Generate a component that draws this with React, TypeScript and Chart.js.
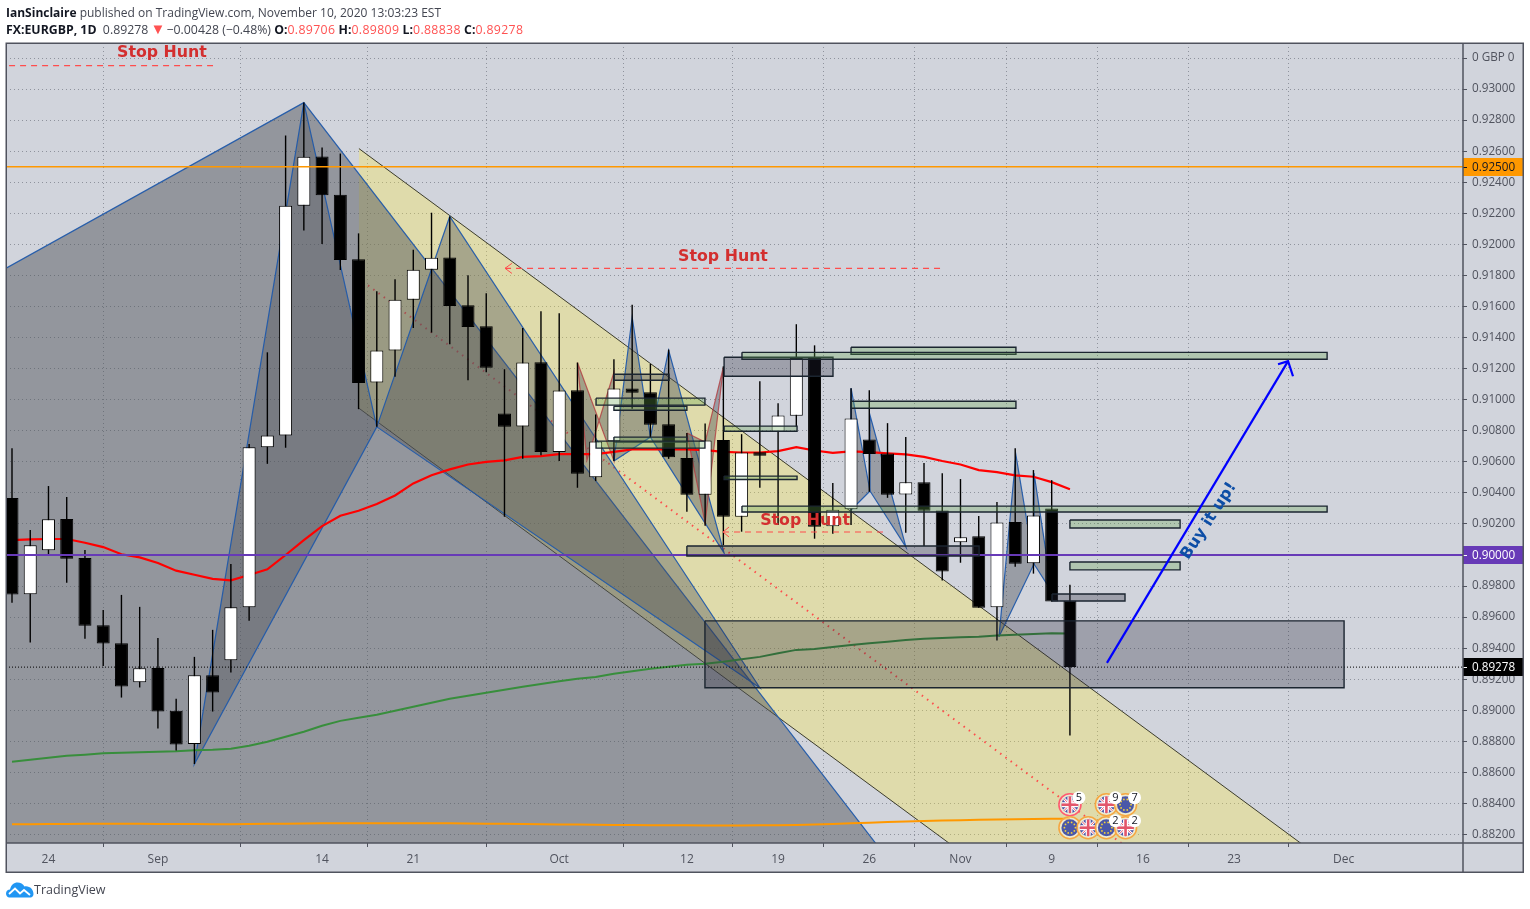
import React, { useEffect, useRef } from "react";
import Chart from "chart.js/auto";

// ---- candle data (bar index 0 = 20 Aug 2020, EURGBP daily)
const opens = [.90367,.89747,.9003,.90232,.89981,.89548,.89432,.89181,.89273,.88997,.88783,.89226,.89323,.89664,.90693,.9077,.92249,.92566,.9232,.91904,.91111,.91316,.91644,.91837,.91916,.91608,.91473,.90911,.90828,.91241,.90664,.91061,.905,.90733,.91072,.91048,.90842,.90624,.90388,.9074,.90246,.90662,.90793,.90896,.91269,.90185,.90294,.90744,.90654,.9039,.90468,.90287,.90082,.9012,.89664,.90212,.89947,.903,.89706];
const closes = [.89745,.90062,.9023,.89976,.89545,.8943,.89153,.89271,.88992,.8878,.89226,.89114,.89664,.90693,.9077,.92249,.92564,.92317,.91899,.91108,.91316,.91644,.91837,.91914,.91603,.91468,.91205,.90825,.91239,.90664,.91059,.90523,.90731,.91072,.91044,.90838,.9063,.90388,.90738,.90246,.9066,.90639,.90898,.91269,.90182,.90291,.90879,.90651,.90388,.90468,.90285,.89893,.90114,.89661,.9021,.89944,.90255,.897,.89278];
const highs = [.90688,.90161,.90444,.90373,.90032,.89646,.89743,.89666,.89466,.89074,.89344,.89518,.89942,.90714,.91305,.92701,.92913,.92624,.92585,.92071,.91698,.91775,.91966,.92204,.9218,.91801,.91685,.91196,.91462,.91569,.91556,.91239,.90905,.9126,.91612,.9123,.91323,.90785,.90847,.91215,.90778,.91119,.90977,.91486,.9135,.90463,.91074,.91061,.90849,.90759,.90592,.90527,.90489,.90251,.90341,.90688,.90547,.90482,.89809];
const lows = [.89693,.89436,.90006,.89822,.8946,.89286,.89082,.89147,.88883,.88741,.88654,.88992,.89243,.89577,.90587,.9069,.9209,.92002,.91835,.90939,.90825,.91147,.91462,.91432,.91357,.91125,.91177,.90246,.90619,.90643,.90606,.90433,.90476,.90606,.90941,.90759,.90619,.90278,.90188,.90064,.9015,.90433,.90193,.90825,.90105,.90137,.90193,.90407,.90368,.90143,.90058,.89835,.8995,.89661,.89449,.89925,.8988,.897,.88838];

// ---- moving averages
const maRed = [.90096,.901,.90103,.90103,.90079,.90051,.90005,.89985,.89949,.89899,.89873,.89846,.89837,.89871,.89908,.9,.90096,.90186,.90253,.90285,.90328,.90383,.90461,.90514,.90551,.90583,.906,.90609,.90632,.90637,.9065,.9065,.9065,.90664,.9068,.9068,.9068,.9068,.90675,.90664,.9066,.9066,.90669,.90695,.90673,.90658,.90667,.90662,.90654,.90648,.90632,.90605,.90583,.90547,.90534,.90513,.90504,.90469,.90423];
const maGreen = [.88669,.88682,.88695,.88707,.88714,.88723,.88727,.8873,.88733,.88736,.88743,.88746,.88752,.88772,.88797,.8883,.88862,.889,.88932,.88952,.88971,.88997,.89023,.89048,.89074,.89093,.89113,.89132,.89151,.8917,.89187,.89203,.89215,.89235,.89251,.89267,.8928,.89293,.893,.89312,.89328,.89344,.89367,.89389,.89395,.89408,.89421,.89431,.89441,.89453,.8946,.89466,.8947,.89473,.89482,.89486,.89492,.89496,.89495];
const maOrange = [.88267,.88267,.88268,.88268,.88269,.8827,.8827,.88269,.88268,.88268,.88268,.88267,.88267,.88268,.88269,.8827,.88271,.88272,.88272,.88272,.88272,.88273,.88273,.88272,.88272,.88271,.8827,.88269,.88268,.88266,.88265,.88264,.88263,.88262,.88261,.8826,.8826,.88259,.88258,.88258,.88258,.88259,.8826,.88262,.88265,.88268,.88272,.88276,.8828,.88284,.88287,.8829,.88292,.88295,.88297,.88299,.883,.88301,.88302];

// ---- axis
const xMin = -0.3289, xMax = 79.55, yMin = 0.881455, yMax = 0.932968;
const xTickIndex = [2, 8, 17, 22, 30, 37, 42, 47, 52, 57, 62, 67, 73];
const xTickLabels = ["24", "Sep", "14", "21", "Oct", "12", "19", "26", "Nov", "9", "16", "23", "Dec"];
const yTicks = [.882,.884,.886,.888,.89,.892,.894,.896,.898,.9,.902,.904,.906,.908,.91,.912,.914,.916,.918,.92,.922,.924,.926,.928,.93,.932];

// ---- horizontal levels
const orangeLevel = 0.925, purpleLevel = 0.9, lastPrice = 0.89278;

// ---- drawn shapes [bar index, price]
const channelFill = [[19.02,.92617],[81.6,.87196],[59.65,.87428],[19.02,.90945]];
const channelTop = [[19.02,.92617],[81.6,.87196]];
const channelBottom = [[19.02,.90945],[59.65,.87428]];
const dottedTrend = [[19.52,.91736],[61.3,.88103]];
const bigTriangle = [[-110.3,.84662],[16,.92913],[54.17,.87106]];
const darkTriangleA = [[16,.92913],[10,.88654],[20,.90825]];
const darkTriangleB = [[20,.90825],[24,.9218],[41,.89145]];
const redBowA = [[31,.91239],[33,.90606],[33,.91177],[31.52,.90611]];
const blueT1 = [[33,.90606],[34,.91531],[35,.90759]];
const blueT2 = [[35,.90759],[36,.91318],[39.04,.90013]];
const redBowB = [[37,.90785],[38,.90727],[39,.91209],[38,.90206]];
const blueT3 = [[46,.91074],[47.04,.90412],[46,.9029]];
const blueT4 = [[47.04,.90412],[47.04,.909],[49.01,.90051]];
const blueT5 = [[54.11,.89473],[55.04,.90643],[56.03,.89942]];
const blueT6 = [[56.03,.89942],[56.03,.90527],[57.02,.89762]];

// ---- rectangles [start index, end index, top price, bottom price]
const greenBoxes = [
  [32.02,37.99,.9101,.90965],[33,37,.90958,.90932],[32.02,37.99,.90733,.90688],[33,37,.90759,.90727],
  [39.04,43.04,.9083,.90797],[39.04,43.04,.90508,.90486],[40.02,72.1,.91305,.9126],[46,55.04,.91338,.91293],
  [46,55.04,.9099,.90945],[40.02,72.1,.90315,.90277],[58,64.04,.90225,.90174],[58,64.04,.89955,.89904],
];
const greyBoxes = [
  [33,36.02,.91164,.91125],[39.04,45.01,.91273,.91151],[57.02,61.02,.89749,.89704],[37,53.02,.90058,.89994],[37.99,73.03,.89576,.89145],
];

// ---- stop hunt dashes and arrows
const stopLine1 = [[-0.16,.93151],[11.02,.93151]];
const stopLine2 = [[27.03,.91846],[51.04,.91846]];
const stopLine3 = [[38.98,.90148],[48.03,.90148]];
const stopHead2 = [[27.41,.91878],[27.03,.91846],[27.41,.91813]];
const stopHead3 = [[39.31,.9018],[38.98,.90148],[39.31,.90116]];
const buyArrow = [[60.03,.89305],[69.96,.91248]];
const buyHead = [[69.41,.91228],[69.96,.91248],[70.23,.91151]];

// ---- text and calendar marks
const stopLabels = [[8.22,.93233],[38.98,.91919],[43.48,.90222]];
const buyLabel = [65.62,.90219];
const eventIndex = [58,60,61.05,58,59,60,61.05];
const eventPrice = [.88392,.88392,.88392,.88244,.88244,.88244,.88244];
const eventFlag = ["UK","UK","EU","EU","UK","EU","UK"];
const eventCount = ["5","9","7","","","2","2"];
const priceBadges: [number,string,string,string][] = [[.925,"0.92500","#ff9800","#131722"],[.9,"0.90000","#673ab7","#ffffff"],[.89278,"0.89278","#000000","#ffffff"]];

const FONT = '"Open Sans", sans-serif';
const pts = (a: number[][]) => a.map(([x, y]) => ({ x, y }));

function stroke(a: number[][], color: string, width: number, order: number, dash: number[] = []) {
  return { type: "line", data: pts(a), borderColor: color, borderWidth: width, borderDash: dash, pointRadius: 0, fill: false, tension: 0, order, borderCapStyle: "butt" };
}
function shape(a: number[][], fillColor: string, color: string, width: number, order: number) {
  return { type: "line", data: pts([...a, a[0]]), backgroundColor: fillColor, borderColor: color, borderWidth: width, pointRadius: 0, fill: "shape", tension: 0, order, borderJoinStyle: "miter" };
}
function box(b: number[], fillColor: string, color: string, order: number) {
  const [x1, x2, t, bt] = b;
  return shape([[x1, t], [x2, t], [x2, bt], [x1, bt]], fillColor, color, 1.4, order);
}
const series = (v: number[]) => v.map((y, x) => ({ x, y }));

function drawFlag(c: CanvasRenderingContext2D, x: number, y: number, kind: string, pink: boolean) {
  c.save();
  c.beginPath(); c.arc(x, y, 11, 0, Math.PI * 2);
  c.fillStyle = "rgba(255,255,255,0.45)"; c.fill();
  c.lineWidth = 1.6; c.strokeStyle = pink ? "#ff5a70" : "#f5a742"; c.stroke();
  c.beginPath(); c.arc(x, y, 8.5, 0, Math.PI * 2); c.clip();
  c.fillStyle = "#4a57a8"; c.fillRect(x - 9, y - 9, 18, 18);
  if (kind === "UK") {
    c.strokeStyle = "#fff"; c.lineWidth = 2.6;
    c.beginPath(); c.moveTo(x - 9, y - 9); c.lineTo(x + 9, y + 9); c.moveTo(x + 9, y - 9); c.lineTo(x - 9, y + 9); c.stroke();
    c.strokeStyle = "#e2566b"; c.lineWidth = 1;
    c.beginPath(); c.moveTo(x - 9, y - 9); c.lineTo(x + 9, y + 9); c.moveTo(x + 9, y - 9); c.lineTo(x - 9, y + 9); c.stroke();
    c.fillStyle = "#fff"; c.fillRect(x - 9, y - 2.5, 18, 5); c.fillRect(x - 2.5, y - 9, 5, 18);
    c.fillStyle = "#e2566b"; c.fillRect(x - 9, y - 1.3, 18, 2.6); c.fillRect(x - 1.3, y - 9, 2.6, 18);
  } else {
    c.fillStyle = "#f4d23c";
    for (let k = 0; k < 10; k++) {
      const a = (k / 10) * Math.PI * 2;
      c.beginPath(); c.arc(x + Math.cos(a) * 5.5, y + Math.sin(a) * 5.5, 0.9, 0, Math.PI * 2); c.fill();
    }
  }
  c.restore();
}

const overlayPlugin = {
  id: "overlay",
  beforeDraw(chart: any) {
    const c = chart.ctx;
    c.save();
    c.fillStyle = "#ffffff"; c.fillRect(0, 0, 1530, 909);
    c.fillStyle = "#d1d4dc"; c.fillRect(6, 43, 1517, 829);
    c.restore();
  },
  afterDatasetsDraw(chart: any) {
    const c = chart.ctx, sx = chart.scales.x, sy = chart.scales.y;
    c.save();
    c.beginPath(); c.rect(chart.chartArea.left, chart.chartArea.top, chart.chartArea.width, chart.chartArea.height); c.clip();
    c.fillStyle = "#d32f2f"; c.font = 'bold 15.8px "DejaVu Sans"'; c.textAlign = "center"; c.textBaseline = "middle";
    stopLabels.forEach(([i, p]) => c.fillText("Stop Hunt", sx.getPixelForValue(i), sy.getPixelForValue(p)));
    c.save();
    c.translate(sx.getPixelForValue(buyLabel[0]), sy.getPixelForValue(buyLabel[1]));
    c.rotate(-57 * Math.PI / 180);
    c.fillStyle = "#0d4ea6"; c.font = 'bold 16px "DejaVu Sans"';
    c.fillText("Buy it up!", 0, 0);
    c.restore();
    eventIndex.forEach((i, k) => drawFlag(c, sx.getPixelForValue(i), sy.getPixelForValue(eventPrice[k]), eventFlag[k], k === 0));
    eventIndex.forEach((i, k) => {
      if (!eventCount[k]) return;
      const x = sx.getPixelForValue(i) + 9, y = sy.getPixelForValue(eventPrice[k]) - 7;
      c.beginPath(); c.arc(x, y, 6.5, 0, Math.PI * 2); c.fillStyle = "#fff"; c.fill();
      c.fillStyle = "#131722"; c.font = `11px ${FONT}`;
      c.fillText(eventCount[k], x, y);
    });
    c.restore();
  },
  afterDraw(chart: any) {
    const c = chart.ctx, sy = chart.scales.y;
    c.save();
    c.font = `11.7px ${FONT}`; c.textAlign = "left"; c.textBaseline = "middle";
    priceBadges.forEach(([p, t, bg, fg]) => {
      const y = Math.round(sy.getPixelForValue(p));
      c.fillStyle = bg; c.fillRect(1463, y - 9, 60, 18);
      c.fillStyle = fg; c.fillText(t, 1472, y + 0.5);
      c.fillRect(1463, y, 4, 1);
    });
    c.strokeStyle = "#50535e"; c.lineWidth = 1.5;
    c.strokeRect(6.25, 43.25, 1517, 829);
    c.beginPath(); c.moveTo(1463, 43); c.lineTo(1463, 872); c.moveTo(6, 843); c.lineTo(1523, 843); c.stroke();
    c.restore();
  },
};

const isXTick = (ctx: any) => ctx.tick && xTickIndex.includes(ctx.tick.value);

export default function App() {
  const ref = useRef<HTMLCanvasElement>(null);
  useEffect(() => {
    const idx = opens.map((_, i) => i);
    const up = idx.filter((i) => closes[i] >= opens[i]);
    const down = idx.filter((i) => closes[i] < opens[i]);
    const candleBase = { type: "bar", grouped: false, barThickness: 13, borderWidth: 1, borderSkipped: false, borderColor: "#000000", inflateAmount: 0 };
    const gray = "rgba(77,80,88,0.47)";
    const dark = "rgba(77,80,88,0.385)";
    const small = "rgba(77,80,88,0.42)";
    const blue = "rgba(33,90,170,0.95)";
    const red = "rgba(178,60,65,0.8)";
    const greenFill = "rgba(100,165,75,0.3)";
    const greyFill = "rgba(40,40,60,0.3)";
    const edge = "#1b2530";
    const gridColor = "rgba(90,92,105,0.55)";
    const datasets: any[] = [
      shape(channelFill, "rgba(255,235,59,0.3)", "rgba(0,0,0,0)", 0, 100),
      stroke(channelTop, "#3c3c2c", 1, 99),
      stroke(channelBottom, "#3c3c2c", 1, 99),
      stroke(dottedTrend, "rgba(255,70,70,0.95)", 2, 98, [1.5, 5]),
      shape(bigTriangle, gray, blue, 1.2, 90),
      shape(darkTriangleA, dark, blue, 1.2, 89),
      shape(darkTriangleB, dark, blue, 1.2, 88),
      shape(redBowA, small, red, 1.2, 87),
      shape(blueT1, small, blue, 1.2, 86),
      shape(blueT2, small, blue, 1.2, 85),
      shape(redBowB, small, red, 1.2, 84),
      shape(blueT3, small, blue, 1.2, 83),
      shape(blueT4, small, blue, 1.2, 82),
      shape(blueT5, small, blue, 1.2, 81),
      shape(blueT6, small, blue, 1.2, 80),
      { ...stroke([], "#ff0000", 2.2, 60), data: series(maRed) },
      { ...stroke([], "#388e3c", 2, 60), data: series(maGreen) },
      { ...stroke([], "#ff9800", 2, 60), data: series(maOrange) },
      { type: "bar", grouped: false, barThickness: 1.4, borderWidth: 0, inflateAmount: 0, backgroundColor: "#000000", order: 50,
        data: idx.map((i) => ({ x: i, y: [lows[i], highs[i]] })) },
      { ...candleBase, backgroundColor: "#ffffff", order: 49, data: up.map((i) => ({ x: i, y: [opens[i], closes[i]] })) },
      { ...candleBase, backgroundColor: "#000000", order: 49, data: down.map((i) => ({ x: i, y: [closes[i], opens[i]] })) },
      stroke([[xMin, orangeLevel], [xMax, orangeLevel]], "#ff9800", 1.6, 39),
      stroke([[xMin, purpleLevel], [xMax, purpleLevel]], "#673ab7", 2, 39),
      stroke([[xMin, lastPrice], [xMax, lastPrice]], "#000000", 1, 39, [1, 2]),
      ...greyBoxes.map((b) => box(b, greyFill, edge, 30)),
      ...greenBoxes.map((b) => box(b, greenFill, edge, 29)),
      stroke(stopLine1, "#ff4d4d", 1.2, 20, [6, 5]),
      stroke(stopLine2, "#ff4d4d", 1.2, 20, [6, 5]),
      stroke(stopLine3, "#ff4d4d", 1.2, 20, [6, 5]),
      stroke(stopHead2, "#ff4d4d", 1, 20),
      stroke(stopHead3, "#ff4d4d", 1, 20),
      stroke(buyArrow, "#0000ff", 2.2, 19),
      stroke(buyHead, "#0000ff", 2.2, 19),
    ];
    const chart = new Chart(ref.current as HTMLCanvasElement, {
      type: "bar",
      data: { datasets },
      plugins: [overlayPlugin],
      options: {
        responsive: false,
        animation: false,
        events: [],
        layout: { padding: { left: 6, top: 43, right: 7, bottom: 37 } },
        plugins: { legend: { display: false }, tooltip: { enabled: false }, title: { display: false }, filler: { drawTime: "beforeDatasetDraw" } },
        scales: {
          x: {
            type: "linear", min: xMin, max: xMax, offset: false,
            afterBuildTicks: (s: any) => { s.ticks = xTickIndex.map((value) => ({ value })); },
            afterFit: (s: any) => { s.height = 29; },
            grid: {
              color: (ctx: any) => (isXTick(ctx) ? gridColor : "rgba(0,0,0,0)"),
              tickColor: (ctx: any) => (isXTick(ctx) ? "#50535e" : "rgba(0,0,0,0)"),
              tickLength: 4, lineWidth: 1, drawTicks: true,
            },
            border: { display: false, dash: [1, 3] },
            ticks: {
              autoSkip: false, maxRotation: 0, minRotation: 0, padding: 5, color: "#50535e", font: { family: FONT, size: 12 },
              callback: (v: number) => xTickLabels[xTickIndex.indexOf(v)] ?? "",
            },
          },
          y: {
            type: "linear", position: "right", min: yMin, max: yMax,
            afterBuildTicks: (s: any) => { s.ticks = yTicks.map((value) => ({ value })); },
            afterFit: (s: any) => { s.width = 60; },
            grid: { color: gridColor, tickColor: "#50535e", tickLength: 4, lineWidth: 1, drawTicks: true },
            border: { display: false, dash: [1, 3] },
            ticks: {
              autoSkip: false, padding: 5, color: "#50535e", font: { family: FONT, size: 11.7 }, crossAlign: "near",
              callback: (v: number) => (Math.abs(v - 0.932) < 1e-6 ? "0 GBP 0" : v.toFixed(5)),
            },
          },
        },
      },
    } as any);
    return () => chart.destroy();
  }, []);

  const num = { color: "#ff5252", letterSpacing: "0.35px" };
  const lab = { fontWeight: 700, color: "#131722" };
  return (
    <div style={{ position: "absolute", left: 0, top: 0, width: 1530, height: 909, background: "#fff", fontFamily: FONT, overflow: "hidden" }}>
      <canvas ref={ref} width={1530} height={909} style={{ display: "block", position: "absolute", left: 0, top: 0 }} />
      <div style={{ position: "absolute", left: 6, top: 4, fontSize: 12, lineHeight: "18px", color: "#434651", whiteSpace: "pre" }}>
        <span style={lab}>IanSinclaire</span> published on TradingView.com, November 10, 2020 13:03:23 EST
      </div>
      <div style={{ position: "absolute", left: 6, top: 21, fontSize: 12.3, lineHeight: "18px", color: "#434651", whiteSpace: "pre" }}>
        <span style={lab}>FX:EURGBP, 1D</span>{"  0.89278 "}<span style={{ color: "#ff5252", fontSize: 15, lineHeight: 0, marginLeft: -1, marginRight: -2 }}>▼</span>{" −0.00428 (−0.48%) "}
        <span style={lab}>O:</span><span style={num}>0.89706</span> <span style={lab}>H:</span><span style={num}>0.89809</span> <span style={lab}>L:</span><span style={num}>0.88838</span> <span style={lab}>C:</span><span style={num}>0.89278</span>
      </div>
      <svg width="28" height="16" viewBox="0 0 28 16" style={{ position: "absolute", left: 6, top: 882 }}>
        <path d="M3 15.5C1 15 0 13 0 11.5 0 9 2 7.5 4 7.5 5 3 8 .5 11.5.5c3 0 5.500 1.500 7 4 5 -1 9 3 9 7.500 0 2-1 3-2.500 3.500z" fill="#2196f3" />
        <path d="M3 12 9 6.500l5 5 4-3.500 6 5" fill="none" stroke="#fff" strokeWidth="1.800" />
      </svg>
      <div style={{ position: "absolute", left: 34, top: 881, fontSize: 12.5, lineHeight: "18px", color: "#434651" }}>TradingView</div>
    </div>
  );
}
